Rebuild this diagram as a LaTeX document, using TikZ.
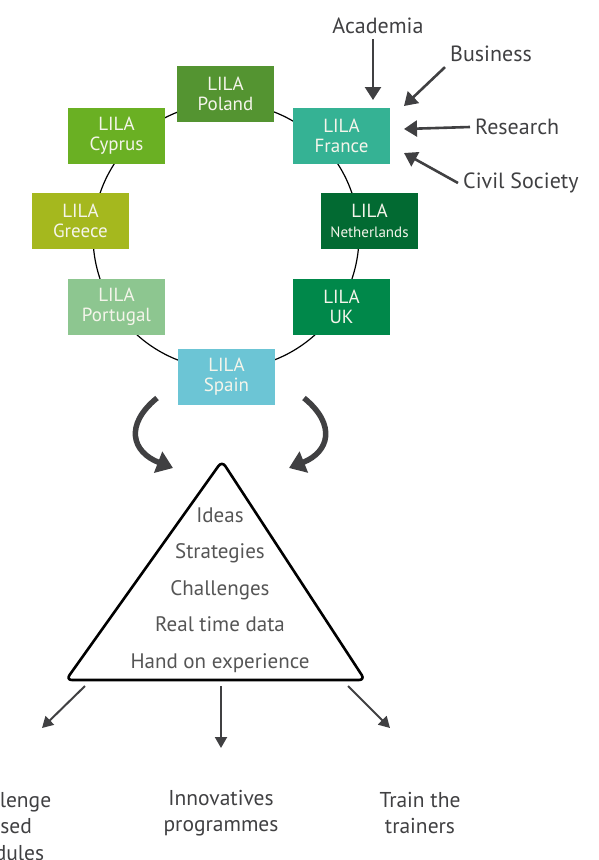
\documentclass[tikz,border=0pt]{standalone}
\usepackage{fontspec}
\setmainfont{PT Sans}
\usetikzlibrary{positioning}
\usetikzlibrary{arrows.meta}
\usetikzlibrary{calc}

\definecolor{cpoland}{RGB}{84,148,49}
\definecolor{ccyprus}{RGB}{106,176,35}
\definecolor{cgreece}{RGB}{165,184,30}
\definecolor{cportugal}{RGB}{141,198,144}
\definecolor{cspain}{RGB}{108,197,213}
\definecolor{cfrance}{RGB}{53,178,148}
\definecolor{cnether}{RGB}{2,106,50}
\definecolor{cuk}{RGB}{0,136,74}
\definecolor{dgray}{RGB}{64,64,66}
\definecolor{lgray}{RGB}{85,85,85}

\begin{document}
\begin{tikzpicture}[x=1pt,y=-1pt]
\tikzstyle{lila}=[minimum width=97pt,minimum height=56pt,inner sep=0pt,text={rgb,255:red,245;green,245;blue,235},align=center,font=\fontsize{19}{20}\selectfont]
\tikzstyle{actor}=[text=dgray,inner sep=5pt,font=\fontsize{22}{26}\selectfont]
\tikzstyle{inarr}=[draw=dgray,line width=2.6pt,-{Triangle[length=13pt,width=16pt]}]
\tikzstyle{outarr}=[draw=dgray,line width=2pt,-{Triangle[length=11pt,width=12pt]}]
\tikzstyle{curvearr}=[draw=dgray,line width=5.5pt,-{Triangle[length=16pt,width=22pt]}]
\useasboundingbox (0,0) rectangle (598,860);
\draw[line width=1.2pt] (226,236) circle (133pt);
\node[lila,fill=cpoland] (poland) at (225.5,94) {LILA\\Poland};
\node[lila,fill=ccyprus] (cyprus) at (116.5,136) {LILA\\Cyprus};
\node[lila,fill=cgreece] (greece) at (80.5,221) {LILA\\Greece};
\node[lila,fill=cportugal] (portugal) at (116.5,307) {LILA\\Portugal};
\node[lila,fill=cspain] (spain) at (226.5,377) {LILA\\Spain};
\node[lila,fill=cfrance] (france) at (341.5,136) {LILA\\France};
\node[lila,fill=cnether] (nether) at (369.5,221) {LILA\\\fontsize{15}{17}\selectfont Netherlands};
\node[lila,fill=cuk] (uk) at (341.5,307) {LILA\\UK};
% who feeds LILA France
\node[actor] (acad) at (378,26) {Academia};
\node[actor,anchor=west] (bus) at (445,54) {Business};
\node[actor,anchor=west] (res) at (470,127) {Research};
\node[actor,anchor=west] (civ) at (458,183) {Civil Society};
\coordinate (acadtip) at (373,100);
\coordinate (bustip) at (404,106);
\coordinate (restip) at (404,129);
\coordinate (civtip) at (404,153);
\draw[inarr] (acad.south -| acadtip) -- (acadtip);
\draw[inarr] (bus.south west) -- (bustip);
\draw[inarr] (res.west) -- (restip);
\draw[inarr] (civ.west) -- (civtip);
% into the triangle
\coordinate (lstart) at (157,398);
\coordinate (rstart) at (304,398);
\coordinate (ltip) at (173,468);
\coordinate (rtip) at (289,468);
\draw[curvearr] (lstart) .. controls (124,425) and (132,452) .. (ltip);
\draw[curvearr] (rstart) .. controls (337,425) and (329,452) .. (rtip);
\coordinate (apex) at (222,461);
\coordinate (bl) at (66,680);
\coordinate (br) at (365,680);
\draw[line width=2.6pt,rounded corners=6pt,line join=round] (apex) -- (br) -- (bl) -- cycle;
\node[text=lgray,align=center,font=\fontsize{21}{36.5}\selectfont] (ideas) at (220,590)
  {Ideas\\Strategies\\Challenges\\Real time data\\Hand on experience};
% what comes out
\coordinate (o1) at (85,686);
\coordinate (o2) at (221,686);
\coordinate (o3) at (348,686);
\coordinate (t1) at (42,728);
\coordinate (t2) at (221,748);
\coordinate (t3) at (390,728);
\draw[outarr] (o1) -- (t1);
\draw[outarr] (o2) -- (t2);
\draw[outarr] (o3) -- (t3);
\node[actor,align=center,font=\fontsize{21.5}{26.5}\selectfont] (chal) at (5,826) {Challenge\\based\\modules};
\node[actor,align=center,font=\fontsize{21.5}{26.5}\selectfont] (innov) at (221,813) {Innovatives\\programmes};
\node[actor,align=center,font=\fontsize{21.5}{26.5}\selectfont] (train) at (420,813) {Train the\\trainers};
\end{tikzpicture}
\end{document}
